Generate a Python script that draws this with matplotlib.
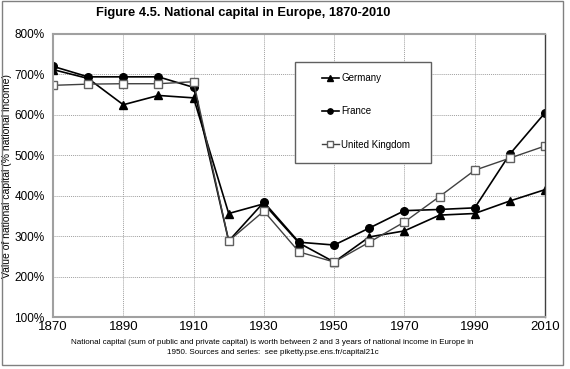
import matplotlib.pyplot as plt
from matplotlib.patches import Rectangle

plt.rcParams['font.family'] = ['Liberation Sans', 'DejaVu Sans']

years = [1870, 1880, 1890, 1900, 1910, 1920, 1930, 1940, 1950, 1960, 1970, 1980, 1990, 2000, 2010]
germany = [712, 690, 625, 648, 642, 356, 380, 283, 236, 298, 313, 352, 356, 387, 415]
france = [720, 694, 694, 694, 668, 288, 384, 285, 278, 320, 363, 366, 370, 503, 605]
uk = [673, 676, 677, 677, 682, 288, 362, 261, 236, 285, 335, 398, 463, 493, 523]

fig = plt.figure(figsize=(5.7, 3.69), dpi=100)
ax = fig.add_axes([53 / 570, 1 - 317 / 369, 492 / 570, 283 / 369])

ax.plot(years, germany, color="black", lw=1.2, marker="^", ms=5.5, label="Germany")
ax.plot(years, france, color="black", lw=1.2, marker="o", ms=5.5, label="France")
ax.plot(years, uk, color="#404040", lw=1.0, marker="s", ms=6,
        markerfacecolor="white", markeredgecolor="#606060", label="United Kingdom")

ax.set_xlim(1870, 2010)
ax.set_ylim(100, 800)
ax.set_xticks(range(1870, 2011, 20))
ax.set_yticks(range(100, 801, 100))
ax.set_yticklabels([f"{v}%" for v in range(100, 801, 100)], fontsize=8.5)
ax.set_xticklabels([str(y) for y in range(1870, 2011, 20)], fontsize=9.5)
ax.tick_params(axis="y", length=0, pad=6)
ax.tick_params(axis="x", length=0, pad=3)
ax.grid(True, color="#a0a0a0", ls=(0, (1, 1)), lw=0.7)
for s in ax.spines.values():
    s.set_color("#a0a0a0")
    s.set_linewidth(1.5)
ax.spines["right"].set_color("#404040")
ax.spines["right"].set_linewidth(1)

ax.set_ylabel("Value of national capital (% national income)", fontsize=7.5, labelpad=2)

# legend box drawn separately, entries sit inside it
ax.add_patch(Rectangle((0.492, 0.544), 0.276, 0.357, transform=ax.transAxes,
                       facecolor="white", edgecolor="#606060", lw=1, zorder=4))
leg = ax.legend(loc="upper left", bbox_to_anchor=(0.547, 0.862), fontsize=7,
                frameon=False, labelspacing=2.4, borderpad=0, handlelength=1.7,
                handletextpad=0.25, markerscale=0.7, borderaxespad=0)
leg.set_zorder(5)

fig.suptitle("Figure 4.5. National capital in Europe, 1870-2010", x=0.427, y=0.982,
             fontsize=9.3, fontweight="bold")
fig.text(0.478, 0.058,
         "National capital (sum of public and private capital) is worth between 2 and 3 years of national income in Europe in\n"
         "1950. Sources and series:  see piketty.pse.ens.fr/capital21c",
         ha="center", va="center", fontsize=5.8, linespacing=1.45)

fig.patches.append(Rectangle((0.003, 0.012), 0.985, 0.985, transform=fig.transFigure,
                             fill=False, edgecolor="#808080", lw=1))

fig.savefig("out.png", dpi=100)
